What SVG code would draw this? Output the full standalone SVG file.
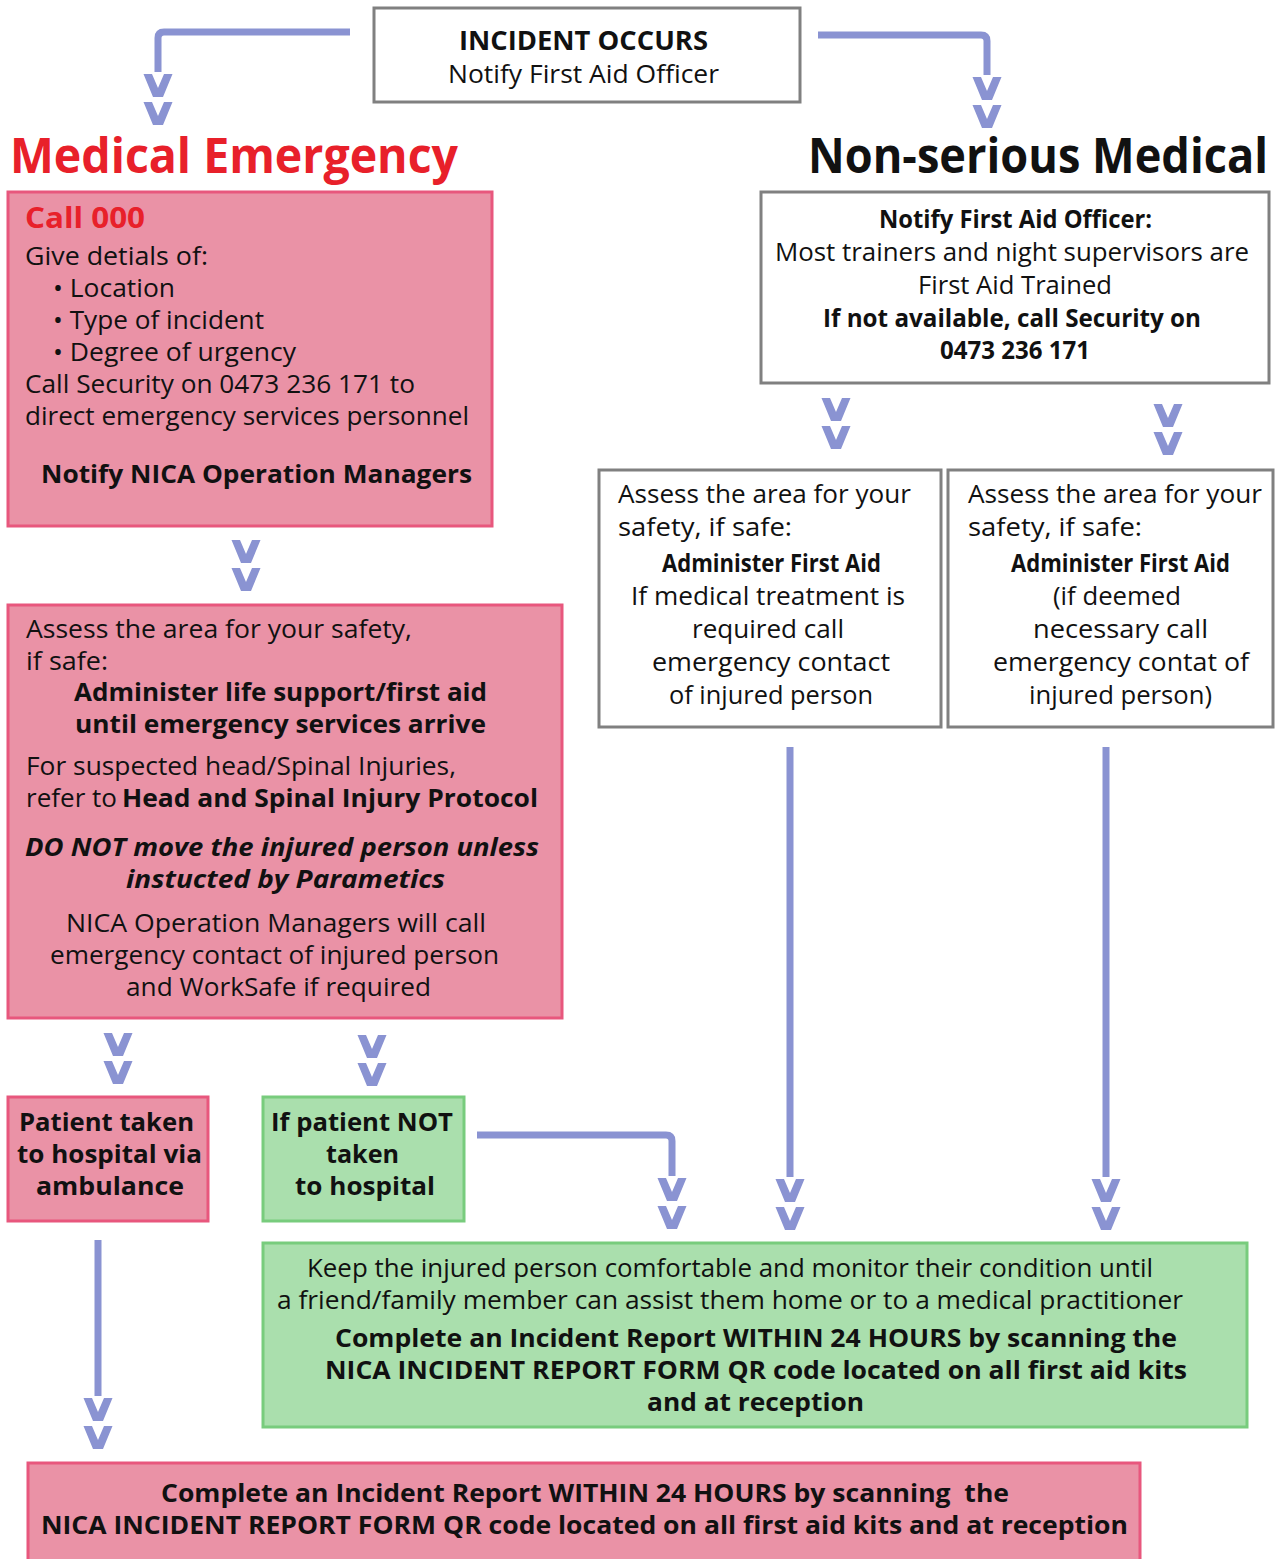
<svg xmlns="http://www.w3.org/2000/svg" xmlns:xlink="http://www.w3.org/1999/xlink" width="1287" height="1559" viewBox="0 0 1287 1559">
<style>
.t{font-family:"Open Sans","Liberation Sans",sans-serif;font-size:25px;fill:#111}
.b{font-weight:700}
.i{font-style:italic}
.h{font-size:48px}
.s26{font-size:26px}
.s29{font-size:29px}
.red{fill:#E8202A}
.pink{fill:#EA92A6;stroke:#E8577D;stroke-width:3}
.green{fill:#AADFAD;stroke:#78CC7D;stroke-width:3}
.gray{fill:#ffffff;stroke:#808080;stroke-width:3}
.conn{fill:none;stroke:#8A93D2;stroke-width:7}
.chev{fill:#8A93D2}
</style>
<defs>
<path id="chev2" class="chev" d="M-14.5,0 L-6,0 L0,14 L6,0 L14.5,0 L5,23 L-5,23 Z M-14.5,28 L-6,28 L0,42 L6,28 L14.5,28 L5,51 L-5,51 Z"/>
</defs>
<rect width="1287" height="1559" fill="#ffffff"/>

<g id="connectors">
<path class="conn" d="M350,32 H164 Q158,32 158,38 V72"/>
<path class="conn" d="M818,35 H981 Q987,35 987,41 V75"/>
<path class="conn" d="M477,1135 H666 Q672,1135 672,1141 V1176"/>
<path class="conn" d="M790,747 V1177"/>
<path class="conn" d="M1106,747 V1177"/>
<path class="conn" d="M98,1240 V1396"/>
<use xlink:href="#chev2" href="#chev2" x="158" y="74"/>
<use xlink:href="#chev2" href="#chev2" x="987" y="77"/>
<use xlink:href="#chev2" href="#chev2" x="246" y="540"/>
<use xlink:href="#chev2" href="#chev2" x="836" y="398"/>
<use xlink:href="#chev2" href="#chev2" x="1168" y="404"/>
<use xlink:href="#chev2" href="#chev2" x="118" y="1033"/>
<use xlink:href="#chev2" href="#chev2" x="372" y="1035"/>
<use xlink:href="#chev2" href="#chev2" x="672" y="1178"/>
<use xlink:href="#chev2" href="#chev2" x="790" y="1179"/>
<use xlink:href="#chev2" href="#chev2" x="1106" y="1179"/>
<use xlink:href="#chev2" href="#chev2" x="98" y="1398"/>
</g>

<g id="incident">
<rect class="gray" x="374" y="8" width="426" height="94"/>
<text class="t b s26" x="459" y="50" textLength="249" lengthAdjust="spacingAndGlyphs">INCIDENT OCCURS</text>
<text class="t s26" x="448" y="83" textLength="271" lengthAdjust="spacingAndGlyphs">Notify First Aid Officer</text>
</g>

<g id="heading-medical">
<text class="t b h red" x="10" y="173" textLength="448" lengthAdjust="spacingAndGlyphs">Medical Emergency</text>
</g>
<g id="heading-nonserious">
<text class="t b h" x="808" y="173" textLength="460" lengthAdjust="spacingAndGlyphs">Non-serious Medical</text>
</g>

<g id="call000">
<rect class="pink" x="8" y="192" width="484" height="334"/>
<text class="t b s29 red" x="25" y="228" textLength="120" lengthAdjust="spacingAndGlyphs">Call 000</text>
<text class="t" x="25" y="265" textLength="183" lengthAdjust="spacingAndGlyphs">Give detials of:</text>
<text class="t" x="53" y="297" textLength="122" lengthAdjust="spacingAndGlyphs">• Location</text>
<text class="t" x="53" y="329" textLength="211" lengthAdjust="spacingAndGlyphs">• Type of incident</text>
<text class="t" x="53" y="361" textLength="243" lengthAdjust="spacingAndGlyphs">• Degree of urgency</text>
<text class="t" x="25" y="393" textLength="390" lengthAdjust="spacingAndGlyphs">Call Security on 0473 236 171 to</text>
<text class="t" x="25" y="425" textLength="444" lengthAdjust="spacingAndGlyphs">direct emergency services personnel</text>
<text class="t b" x="41" y="483" textLength="431" lengthAdjust="spacingAndGlyphs">Notify NICA Operation Managers</text>
</g>

<g id="notify-officer">
<rect class="gray" x="761" y="192" width="508" height="191"/>
<text class="t b" x="879" y="228" textLength="273" lengthAdjust="spacingAndGlyphs">Notify First Aid Officer:</text>
<text class="t" x="775" y="261" textLength="474" lengthAdjust="spacingAndGlyphs">Most trainers and night supervisors are</text>
<text class="t" x="918" y="294" textLength="194" lengthAdjust="spacingAndGlyphs">First Aid Trained</text>
<text class="t b" x="823" y="327" textLength="378" lengthAdjust="spacingAndGlyphs">If not available, call Security on</text>
<text class="t b" x="940" y="359" textLength="150" lengthAdjust="spacingAndGlyphs">0473 236 171</text>
</g>

<g id="assess-left">
<rect class="gray" x="599" y="470" width="342" height="257"/>
<text class="t" x="618" y="503" textLength="293" lengthAdjust="spacingAndGlyphs">Assess the area for your</text>
<text class="t" x="618" y="536" textLength="174" lengthAdjust="spacingAndGlyphs">safety, if safe:</text>
<text class="t b" x="662" y="572" textLength="219" lengthAdjust="spacingAndGlyphs">Administer First Aid</text>
<text class="t" x="631" y="605" textLength="274" lengthAdjust="spacingAndGlyphs">If medical treatment is</text>
<text class="t" x="692" y="638" textLength="152" lengthAdjust="spacingAndGlyphs">required call</text>
<text class="t" x="652" y="671" textLength="238" lengthAdjust="spacingAndGlyphs">emergency contact</text>
<text class="t" x="669" y="704" textLength="204" lengthAdjust="spacingAndGlyphs">of injured person</text>
</g>

<g id="assess-right">
<rect class="gray" x="948" y="470" width="325" height="257"/>
<text class="t" x="968" y="503" textLength="294" lengthAdjust="spacingAndGlyphs">Assess the area for your</text>
<text class="t" x="968" y="536" textLength="174" lengthAdjust="spacingAndGlyphs">safety, if safe:</text>
<text class="t b" x="1011" y="572" textLength="219" lengthAdjust="spacingAndGlyphs">Administer First Aid</text>
<text class="t" x="1053" y="605" textLength="128" lengthAdjust="spacingAndGlyphs">(if deemed</text>
<text class="t" x="1033" y="638" textLength="175" lengthAdjust="spacingAndGlyphs">necessary call</text>
<text class="t" x="993" y="671" textLength="256" lengthAdjust="spacingAndGlyphs">emergency contat of</text>
<text class="t" x="1029" y="704" textLength="183" lengthAdjust="spacingAndGlyphs">injured person)</text>
</g>

<g id="life-support">
<rect class="pink" x="8" y="605" width="554" height="413"/>
<text class="t" x="26" y="638" textLength="386" lengthAdjust="spacingAndGlyphs">Assess the area for your safety,</text>
<text class="t" x="26" y="670" textLength="82" lengthAdjust="spacingAndGlyphs">if safe:</text>
<text class="t b" x="74" y="701" textLength="413" lengthAdjust="spacingAndGlyphs">Administer life support/first aid</text>
<text class="t b" x="75" y="733" textLength="411" lengthAdjust="spacingAndGlyphs">until emergency services arrive</text>
<text class="t" x="26" y="775" textLength="430" lengthAdjust="spacingAndGlyphs">For suspected head/Spinal Injuries,</text>
<text class="t" x="26" y="807" textLength="91" lengthAdjust="spacingAndGlyphs">refer to</text>
<text class="t b" x="122" y="807" textLength="416" lengthAdjust="spacingAndGlyphs">Head and Spinal Injury Protocol</text>
<text class="t b i" x="25" y="856" textLength="514" lengthAdjust="spacingAndGlyphs">DO NOT move the injured person unless</text>
<text class="t b i" x="126" y="888" textLength="319" lengthAdjust="spacingAndGlyphs">instucted by Parametics</text>
<text class="t" x="66" y="932" textLength="420" lengthAdjust="spacingAndGlyphs">NICA Operation Managers will call</text>
<text class="t" x="50" y="964" textLength="449" lengthAdjust="spacingAndGlyphs">emergency contact of injured person</text>
<text class="t" x="126" y="996" textLength="305" lengthAdjust="spacingAndGlyphs">and WorkSafe if required</text>
</g>

<g id="ambulance">
<rect class="pink" x="8" y="1097" width="200" height="124"/>
<text class="t b" x="19" y="1131" textLength="175" lengthAdjust="spacingAndGlyphs">Patient taken</text>
<text class="t b" x="17" y="1163" textLength="185" lengthAdjust="spacingAndGlyphs">to hospital via</text>
<text class="t b" x="36" y="1195" textLength="148" lengthAdjust="spacingAndGlyphs">ambulance</text>
</g>

<g id="not-hospital">
<rect class="green" x="263" y="1097" width="201" height="124"/>
<text class="t b" x="271" y="1131" textLength="182" lengthAdjust="spacingAndGlyphs">If patient NOT</text>
<text class="t b" x="326" y="1163" textLength="73" lengthAdjust="spacingAndGlyphs">taken</text>
<text class="t b" x="295" y="1195" textLength="140" lengthAdjust="spacingAndGlyphs">to hospital</text>
</g>

<g id="keep-comfortable">
<rect class="green" x="263" y="1243" width="984" height="184"/>
<text class="t" x="307" y="1277" textLength="846" lengthAdjust="spacingAndGlyphs">Keep the injured person comfortable and monitor their condition until</text>
<text class="t" x="277" y="1309" textLength="906" lengthAdjust="spacingAndGlyphs">a friend/family member can assist them home or to a medical practitioner</text>
<text class="t b" x="335" y="1347" textLength="842" lengthAdjust="spacingAndGlyphs">Complete an Incident Report WITHIN 24 HOURS by scanning the</text>
<text class="t b" x="325" y="1379" textLength="862" lengthAdjust="spacingAndGlyphs">NICA INCIDENT REPORT FORM QR code located on all first aid kits</text>
<text class="t b" x="647" y="1411" textLength="217" lengthAdjust="spacingAndGlyphs">and at reception</text>
</g>

<g id="incident-report">
<rect class="pink" x="28" y="1463" width="1112" height="110"/>
<text class="t b" x="161" y="1502" textLength="848" lengthAdjust="spacingAndGlyphs" xml:space="preserve">Complete an Incident Report WITHIN 24 HOURS by scanning  the</text>
<text class="t b" x="41" y="1534" textLength="1087" lengthAdjust="spacingAndGlyphs">NICA INCIDENT REPORT FORM QR code located on all first aid kits and at reception</text>
</g>
</svg>
